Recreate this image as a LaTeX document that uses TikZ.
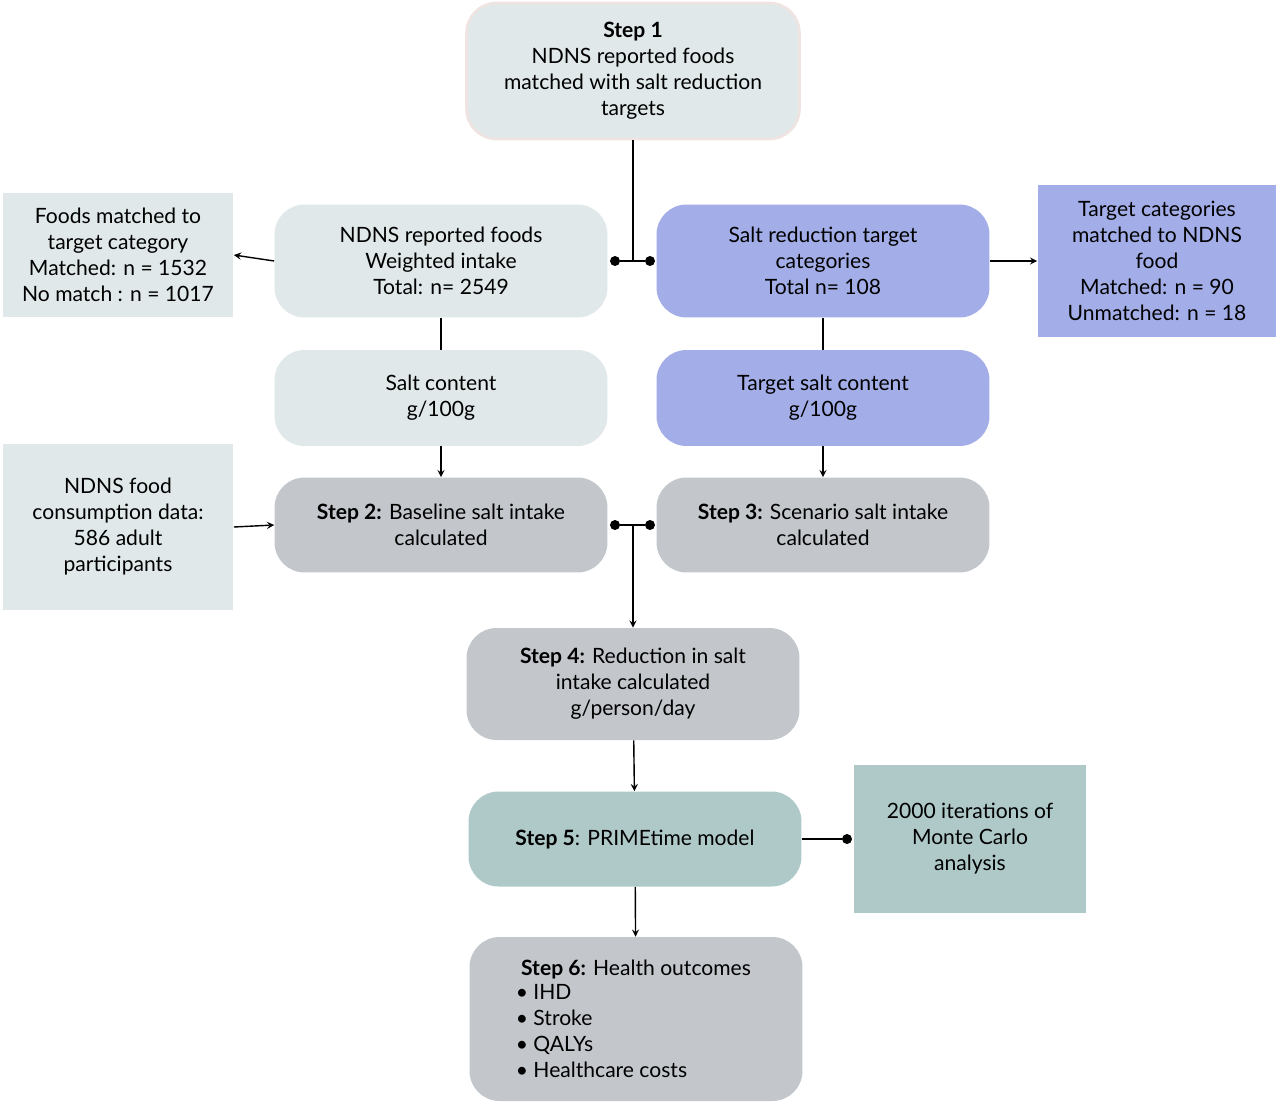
\documentclass[tikz,border=0pt]{standalone}
\usepackage{fontspec}
\setmainfont{Lato}
\usetikzlibrary{positioning}
\definecolor{paleblue}{HTML}{E0E8EA}
\definecolor{lavender}{HTML}{A3AEE8}
\definecolor{stepgrey}{HTML}{C3C7CC}
\definecolor{sage}{HTML}{AFC9C9}
\definecolor{rimcol}{HTML}{EFE4E2}
\tikzset{
  box/.style={rounded corners=0.6cm, minimum width=6.66cm, align=center, inner sep=2pt,
    font=\fontsize{12}{14.8}\selectfont},
  side/.style={minimum width=4.62cm, align=center, inner sep=2pt,
    font=\fontsize{12}{14.8}\selectfont},
  arr/.style={thick, ->, >=stealth},
  dot/.style={circle, fill=black, inner sep=0pt, minimum size=0.2cm}
}
\begin{document}
\begin{tikzpicture}[x=0.02cm, y=-0.02cm]
    \useasboundingbox (0,0) rectangle (1280,1105);

    % Step 1
    \node[box, fill=paleblue, draw=rimcol, line width=1.5pt, minimum height=2.72cm] (step1) at (633,71)
      {\textbf{Step 1}\\NDNS reported foods\\matched with salt reduction\\targets};

    % left column
    \node[box, fill=paleblue, minimum height=2.26cm] (ndns) at (441,261)
      {NDNS reported foods\\Weighted intake\\Total: n= 2549};
    \node[box, fill=paleblue, minimum height=1.92cm] (salt) at (441,398)
      {Salt content\\g/100g};
    \node[box, fill=stepgrey, minimum height=1.9cm] (step2) at (441,525)
      {\textbf{Step 2:} Baseline salt intake\\calculated};

    % right column
    \node[box, fill=lavender, minimum height=2.26cm] (target) at (823,261)
      {Salt reduction target\\categories\\Total n= 108};
    \node[box, fill=lavender, minimum height=1.92cm] (tsalt) at (823,398)
      {Target salt content\\g/100g};
    \node[box, fill=stepgrey, minimum height=1.9cm] (step3) at (823,525)
      {\textbf{Step 3:} Scenario salt intake\\calculated};

    % side boxes
    \node[side, fill=paleblue, minimum height=2.5cm] (foods) at (118,255)
      {Foods matched to\\target category\\Matched: n = 1532\\No match : n = 1017};
    \node[side, fill=lavender, minimum width=4.78cm, minimum height=3.04cm] (cats) at (1157,261)
      {Target categories\\matched to NDNS\\food\\Matched: n = 90\\Unmatched: n = 18};
    \node[side, fill=paleblue, minimum height=3.34cm] (cons) at (118,527)
      {NDNS food\\consumption data:\\586 adult\\participants};

    % lower steps
    \node[box, fill=stepgrey, minimum height=2.24cm] (step4) at (633,684)
      {\textbf{Step 4:} Reduction in salt\\intake calculated\\g/person/day};
    \node[box, fill=sage, minimum height=1.9cm] (step5) at (635,839)
      {\textbf{Step 5}: PRIMEtime model};
    \node[side, fill=sage, minimum width=4.66cm, minimum height=2.96cm] (monte) at (970,839)
      {2000 iterations of\\Monte Carlo\\analysis};
    \node[box, fill=stepgrey, minimum height=3.28cm, align=left] (step6) at (636,1019)
      {\textbf{Step 6:} Health outcomes\\[-1pt]
       \hspace*{-3pt}\textbullet\ IHD\\ \hspace*{-3pt}\textbullet\ Stroke\\
       \hspace*{-3pt}\textbullet\ QALYs\\ \hspace*{-3pt}\textbullet\ Healthcare costs};

    % junction points
    \node[dot] (jl) at (615,261) {};
    \node[dot] (jr) at (650,261) {};
    \node[dot] (kl) at (615,525) {};
    \node[dot] (kr) at (650,525) {};
    \node[dot] (mc) at (847,839) {};
    \coordinate (join1) at (633,261);
    \coordinate (join2) at (633,525);

    % connectors
    \draw[thick] (step1.south) -- (join1);
    \draw[thick] (jl) -- (jr);
    \draw[arr] (ndns.west) -- (foods.east);
    \draw[arr] (target.east) -- (cats.west);
    \draw[thick] (ndns) -- (salt);
    \draw[thick] (target) -- (tsalt);
    \draw[arr] (salt) -- (step2);
    \draw[arr] (tsalt) -- (step3);
    \draw[arr] (cons.east) -- (step2.west);
    \draw[thick] (kl) -- (kr);
    \draw[arr] (join2) -- (step4.north);
    \draw[arr] (step4) -- (step5);
    \draw[arr] (step5) -- (step6);
    \draw[thick] (step5.east) -- (mc);
\end{tikzpicture}
\end{document}
